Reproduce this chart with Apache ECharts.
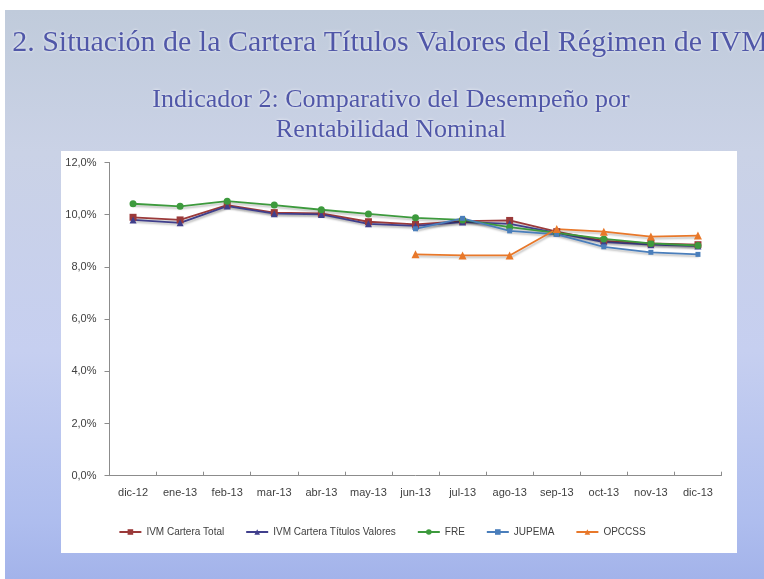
<!DOCTYPE html>
<html>
<head>
<meta charset="utf-8">
<script src="https://cdn.jsdelivr.net/npm/echarts@6/dist/echarts.min.js"></script>
<style>
html,body{margin:0;padding:0;background:#ffffff;}
#chart{width:764px;height:579px;}
</style>
</head>
<body>
<div id="chart"></div>
<script>
var categories = ['dic-12','ene-13','feb-13','mar-13','abr-13','may-13','jun-13','jul-13','ago-13','sep-13','oct-13','nov-13','dic-13'];
var yTicks = [0, 2, 4, 6, 8, 10, 12];
var ivmTotal   = [9.90, 9.80, 10.37, 10.08, 10.05, 9.73, 9.63, 9.75, 9.78, 9.35, 9.00, 8.90, 8.85];
var ivmTitulos = [9.80, 9.69, 10.33, 10.04, 10.01, 9.65, 9.57, 9.72, 9.65, 9.30, 8.95, 8.85, 8.80];
var fre        = [10.42, 10.32, 10.52, 10.37, 10.19, 10.03, 9.88, 9.80, 9.52, 9.30, 9.07, 8.90, 8.82];
var jupema     = [null, null, null, null, null, null, 9.46, 9.86, 9.38, 9.25, 8.77, 8.56, 8.48];
var opccss     = [null, null, null, null, null, null, 8.48, 8.44, 8.44, 9.45, 9.35, 9.16, 9.20];
var seriesNames = ['IVM Cartera Total', 'IVM Cartera Títulos Valores', 'FRE', 'JUPEMA', 'OPCCSS'];
var titleLine1 = '2. Situación de la Cartera Títulos Valores del Régimen de IVM';
var titleLine2 = 'Indicador 2: Comparativo del Desempeño por\nRentabilidad Nominal';

var chart = echarts.init(document.getElementById('chart'), null, {renderer:'canvas'});
var font = "'Liberation Sans Narrow','Liberation Sans',Arial,sans-serif";
var shadow = {shadowColor:'rgba(0,0,0,0.25)', shadowBlur:2, shadowOffsetX:1, shadowOffsetY:2};
function mk(name, data, color, symbol, size){
  return {
    name: name, type:'line', data: data, symbol: symbol, symbolSize: size,
    showAllSymbol: true, connectNulls: false,
    lineStyle: Object.assign({color: color, width: 1.8}, shadow),
    itemStyle: {color: color},
    emphasis: {disabled: true}
  };
}
var option = {
  animation: false,
  graphic: [
    {type:'rect', z:-10, shape:{x:0,y:0,width:764,height:579}, style:{fill:'#ffffff'}},
    {type:'rect', z:-9, shape:{x:5,y:10,width:759,height:569}, style:{fill:{type:'linear',x:0,y:0,x2:0,y2:1,colorStops:[
      {offset:0,color:'#c0cbdb'},{offset:0.25,color:'#cad2e6'},{offset:0.6,color:'#c6cff0'},{offset:0.9,color:'#aebdee'},{offset:1,color:'#a3b3ea'}]}}},
    {type:'rect', z:-8, shape:{x:61,y:151,width:676,height:402}, style:{fill:'#ffffff'}}
  ],
  title: [
    {text: titleLine1, left: 385, textAlign:'center', top: 23,
     textStyle:{fontFamily:"'Liberation Serif','Times New Roman',serif", fontWeight:'normal', fontSize:30, color:'#5057a8',
       textShadowColor:'#ffffff', textShadowBlur:3}},
    {text: titleLine2, left: 386, textAlign:'center', top: 80,
     textStyle:{fontFamily:"'Liberation Serif','Times New Roman',serif", fontWeight:'normal', fontSize:26, lineHeight:30, color:'#5057a8',
       textShadowColor:'#ffffff', textShadowBlur:3}}
  ],
  grid: {left:109.5, right:42.5, top:162.5, bottom:103.3, containLabel:false},
  legend: {
    data: seriesNames, bottom: 37, left: 'center', itemGap: 21, itemWidth: 22, itemHeight: 7,
    textStyle:{fontFamily:font, fontSize:10, color:'#404040'}
  },
  xAxis: {
    type:'category', data: categories, boundaryGap: true,
    axisLine:{lineStyle:{color:'#8c8c8c', width:1}},
    axisTick:{show:true, inside:true, length:4, alignWithLabel:false, lineStyle:{color:'#8c8c8c'}},
    axisLabel:{fontFamily:font, fontSize:11, color:'#404040', margin:12, interval:0}
  },
  yAxis: {
    type:'value', min: yTicks[0], max: yTicks[yTicks.length-1], interval: 2,
    axisLine:{show:true, lineStyle:{color:'#8c8c8c', width:1}},
    axisTick:{show:true, length:5, lineStyle:{color:'#8c8c8c'}},
    splitLine:{show:false},
    axisLabel:{fontFamily:font, fontSize:11, color:'#404040', margin:13,
      formatter: function(v){ return v.toFixed(1).replace('.', ',') + '%'; }}
  },
  series: [
    mk(seriesNames[0], ivmTotal, '#9b3a3a', 'rect', 7),
    mk(seriesNames[1], ivmTitulos, '#403f8c', 'triangle', 7),
    mk(seriesNames[2], fre, '#3d9a3d', 'circle', 7),
    mk(seriesNames[3], jupema, '#4a7ebb', 'rect', 5),
    mk(seriesNames[4], opccss, '#e8782a', 'triangle', 8)
  ]
};
chart.setOption(option);
</script>
</body>
</html>
